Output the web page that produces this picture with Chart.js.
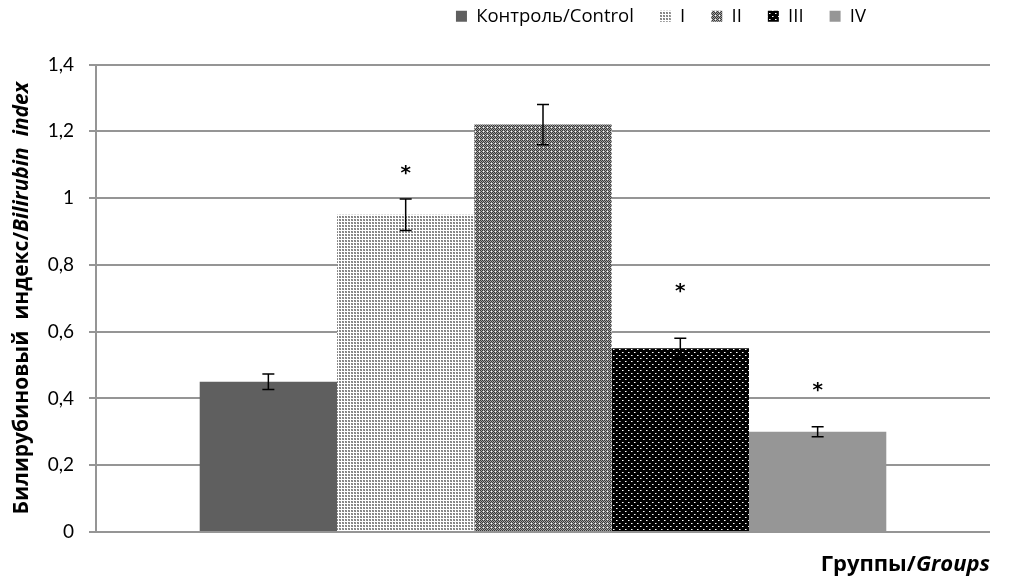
<!DOCTYPE html>
<html>
<head>
<meta charset="utf-8">
<script src="https://cdn.jsdelivr.net/npm/chart.js@4"></script>
<style>
  html, body { margin: 0; padding: 0; background: #fff; }
  #wrap { width: 1016px; height: 577px; }
</style>
</head>
<body>
<div id="wrap"><canvas id="c" width="1016" height="577"></canvas></div>
<script>
// группы и значения (билирубиновый индекс)
const groups = ['Контроль/Control', 'I', 'II', 'III', 'IV'];
const values = [0.45, 0.95, 1.22, 0.55, 0.30];
const errors = [0.023, 0.047, 0.06, 0.03, 0.015];
const stars = [null, 1.085, null, 0.73, 0.435];   // где стоит "*", в единицах оси Y
const yTicks = [0, 0.2, 0.4, 0.6, 0.8, 1, 1.2, 1.4];

const FONT = '"Open Sans", sans-serif';
const TICKFONT = 'Lato, sans-serif';

// заливки-узоры как в Excel
function tile(w, h, bg, dots) {
  const c = document.createElement('canvas');
  c.width = w; c.height = h;
  const g = c.getContext('2d');
  g.fillStyle = bg; g.fillRect(0, 0, w, h);
  dots.forEach(([x, y, col]) => { g.fillStyle = col; g.fillRect(x, y, 1, 1); });
  return g.createPattern(c, 'repeat');
}
const fills = [
  '#5f5f5f',
  tile(3, 3, '#ffffff', [[0, 0, '#7e7e7e'], [1, 0, '#959595'], [0, 1, '#959595'], [1, 1, '#7e7e7e']]),
  tile(4, 4, '#a0a0a0', [[0, 0, '#383838'], [2, 0, '#383838'], [1, 1, '#383838'], [3, 1, '#383838'],
                         [0, 2, '#383838'], [2, 2, '#383838'], [1, 3, '#383838'], [3, 3, '#ffffff']]),
  tile(6, 6, '#000000', [[1, 1, '#ffffff'], [4, 4, '#ffffff'], [2, 1, '#888888'], [5, 4, '#888888']]),
  '#969696',
];

const datasets = groups.map((g, i) => ({
  label: g,
  data: [values[i]],
  backgroundColor: fills[i],
  borderWidth: 0,
  err: errors[i],
  star: stars[i],
}));

// усы погрешности, звёздочки, подписи осей
const extras = {
  id: 'extras',
  afterLayout(chart) {
    // легенда в оригинале сдвинута вправо и прижата к верху
    const lg = chart.legend;
    if (lg) { lg.left += 166; lg.right += 166; lg.top -= 29; lg.bottom -= 29; }
  },
  afterDatasetsDraw(chart) {
    const { ctx, scales: { y } } = chart;
    ctx.save();
    chart.data.datasets.forEach((ds, i) => {
      const bar = chart.getDatasetMeta(i).data[0];
      const v = ds.data[0];
      const yt = y.getPixelForValue(v + ds.err), yb = y.getPixelForValue(v - ds.err);
      ctx.strokeStyle = '#000'; ctx.lineWidth = 1.5;
      ctx.beginPath();
      ctx.moveTo(bar.x, yt); ctx.lineTo(bar.x, yb);
      ctx.moveTo(bar.x - 6, yt); ctx.lineTo(bar.x + 6, yt);
      ctx.moveTo(bar.x - 6, yb); ctx.lineTo(bar.x + 6, yb);
      ctx.stroke();
      if (ds.star != null) {
        ctx.fillStyle = '#000';
        ctx.font = 'bold 20px "DejaVu Sans", sans-serif';
        ctx.textAlign = 'center'; ctx.textBaseline = 'alphabetic';
        const m = ctx.measureText('*');
        const cy = y.getPixelForValue(ds.star);
        ctx.fillText('*', bar.x, cy + (m.actualBoundingBoxAscent - m.actualBoundingBoxDescent) / 2);
      }
    });
    ctx.restore();
  },
  afterDraw(chart) {
    const { ctx, chartArea: a } = chart;
    ctx.save();
    ctx.fillStyle = '#000';
    ctx.textBaseline = 'middle';
    // подпись оси Y: русская часть жирная, английская жирный курсив
    const p1 = 'Билирубиновый  индекс/', p2 = 'Bilirubin  index';
    const f1 = 'bold 21px ' + FONT, f2 = 'italic bold 21px ' + FONT;
    ctx.font = f1; const w1 = ctx.measureText(p1).width;
    ctx.font = f2; const w2 = ctx.measureText(p2).width;
    ctx.translate(22, (a.top + a.bottom) / 2);
    ctx.rotate(-Math.PI / 2);
    ctx.textAlign = 'left';
    ctx.font = f1; ctx.fillText(p1, -(w1 + w2) / 2, 0);
    ctx.font = f2; ctx.fillText(p2, -(w1 + w2) / 2 + w1, 0);
    ctx.setTransform(1, 0, 0, 1, 0, 0);
    // подпись оси X справа внизу
    const q1 = 'Группы/', q2 = 'Groups';
    const g1 = 'bold 22px ' + FONT, g2 = 'italic bold 22px ' + FONT;
    ctx.font = g2; const v2 = ctx.measureText(q2).width;
    ctx.textAlign = 'right';
    ctx.fillText(q2, a.right, 565);
    ctx.font = g1; ctx.fillText(q1, a.right - v2, 565);
    ctx.restore();
  },
};

new Chart(document.getElementById('c'), {
  type: 'bar',
  data: { labels: [''], datasets },
  plugins: [extras],
  options: {
    responsive: false,
    animation: false,
    layout: { padding: { top: 10, right: 26, left: 0, bottom: 0 } },
    datasets: { bar: { categoryPercentage: 0.768, barPercentage: 1 } },
    plugins: {
      legend: {
        position: 'top',
        labels: { boxWidth: 11, boxHeight: 11, padding: 26, color: '#000', font: { family: FONT, size: 18.5 } },
      },
      tooltip: { enabled: false },
    },
    scales: {
      x: {
        grid: { display: false },
        border: { display: false },
        ticks: { display: false },
        afterFit: s => { s.height = 45; },
      },
      y: {
        min: 0, max: 1.4,
        afterBuildTicks: s => { s.ticks = yTicks.map(v => ({ value: v })); },
        afterFit: s => { s.width = 96; },
        grid: { color: '#959595', lineWidth: 2, tickLength: 7, tickColor: '#959595' },
        border: { color: '#959595', width: 2 },
        ticks: {
          padding: 15, color: '#000', font: { family: TICKFONT, size: 19 },
          callback: v => String(Number(v.toFixed(1))).replace('.', ','),
        },
      },
    },
  },
});
</script>
</body>
</html>
